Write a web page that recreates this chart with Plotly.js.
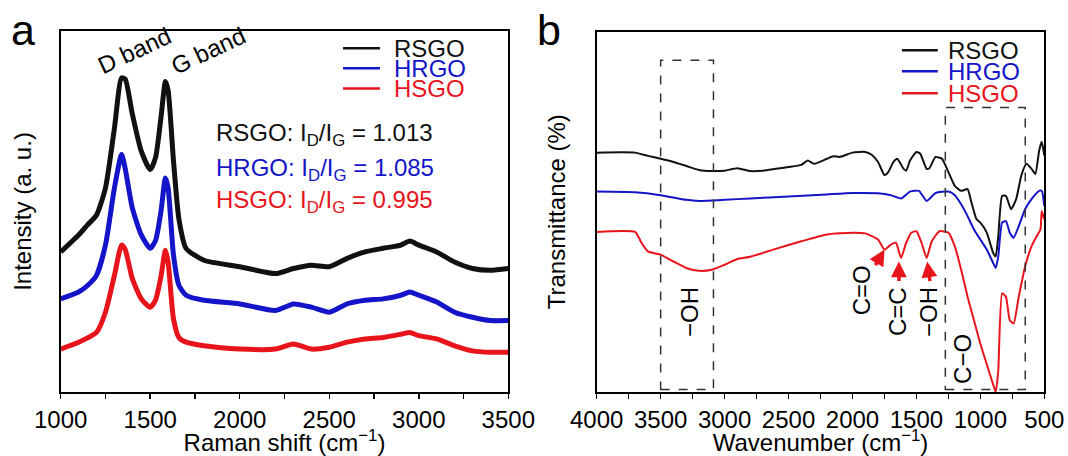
<!DOCTYPE html>
<html>
<head>
<meta charset="utf-8">
<script src="https://cdn.plot.ly/plotly-3.0.1.min.js"></script>
<style>
html,body{margin:0;padding:0;background:#fff;}
#chart{width:1068px;height:456px;}
</style>
</head>
<body>
<div id="chart"></div>
<script>
// ---- Panel a: Raman spectra (arbitrary intensity units)
var ramanShift = [1000,1100,1150,1200,1250,1300,1340,1360,1400,1450,1500,1530,1560,1585,1600,1630,1660,1700,1800,2000,2200,2300,2400,2500,2600,2700,2800,2900,2950,3000,3100,3200,3300,3400,3500];
var ramanRSGO = [38.8,43.5,46.3,49,56.5,73,87,86.7,77,66.7,61.6,65,76,86,83.5,64,48,39.8,36.5,34.7,32.8,34.2,35.1,34.7,37,38.8,39.8,40.7,41.8,40.7,38.8,36,34.2,33.7,34.2];
var ramanHRGO = [25.8,27.7,29.5,32.3,40.7,56.5,65.8,62,51,43.5,39.8,42,50,59.3,56.5,37.9,29.6,26.8,25.4,24.4,22.6,24.4,23.5,22.1,24.4,25.4,25.8,26.8,27.7,26.8,24.9,22.1,20.7,19.8,19.8];
var ramanHSGO = [11.9,13.8,15,16.5,22.1,32.3,40.7,39.5,31.4,25.8,23.5,25.5,32,39.3,36,20.3,15.1,13.8,12.8,11.9,11.9,13.3,11.9,12.4,13.8,14.7,15.1,16,16.5,15.6,14.7,12.8,11.4,11,11];

// ---- Panel b: FTIR spectra (arbitrary transmittance units)
var wnRSGO = [4000,3700,3600,3500,3400,3300,3200,3100,3000,2900,2800,2700,2600,2500,2400,2350,2300,2200,2150,2100,2000,1900,1850,1800,1750,1720,1680,1650,1600,1580,1550,1500,1470,1420,1400,1350,1300,1250,1200,1150,1100,1070,1030,1000,950,900,880,860,830,800,760,720,680,640,600,570,540,520,500];
var trRSGO = [66.4,66.4,65.5,64.7,63.8,62.7,61.6,61.3,61.4,62.1,61.3,61.4,61.9,62.4,63,64.2,63.3,64.7,65.4,65.2,66.4,66.6,65.8,63.8,60.2,61,63.8,64.7,61.9,61.4,64.2,66.6,66.1,61.9,62,65.2,64.7,61,57.2,55.8,56.3,52.6,47.9,47,44.2,38.6,37.6,43.2,54.4,54.4,50.7,53.5,60,63.3,61.9,60.5,67,69.4,65.6];
var wnHRGO = [4000,3700,3500,3300,3200,3000,2800,2500,2200,2000,1800,1700,1620,1550,1480,1420,1350,1250,1200,1150,1100,1050,1000,950,900,880,860,830,800,770,740,700,650,600,540,520,500];
var trHRGO = [55.6,55.4,54.6,53.3,53,53.3,53.7,54.2,54.8,55.2,55.1,54.6,53.7,55.6,55.8,53,55.2,55.6,54.6,52.1,48.8,45.1,42.3,39.5,35.8,34.4,37.6,47,47.4,44.2,42.8,46,50.7,53.5,55.8,55.8,51.6];
var wnHSGO = [4000,3700,3650,3600,3500,3400,3300,3200,3100,3000,2900,2800,2600,2400,2200,2000,1900,1800,1750,1700,1660,1620,1580,1540,1500,1460,1420,1380,1320,1250,1200,1150,1100,1050,1000,950,900,880,860,830,800,770,740,700,650,600,560,530,520,500];
var trHSGO = [44.4,44.4,41.4,39,38.1,36.2,34.4,33.6,33.9,35.3,36.9,37.5,39.7,41.8,43.7,44.2,44,42.3,39.5,40.9,41.4,37.2,41.4,44.2,44.6,41.4,37.2,41.8,44.6,44.2,40.4,33.9,26.4,19.9,13.4,7.7,2.1,0,5.9,27.4,26.4,19.9,19,26.4,34.8,40.4,43.2,45.1,50.2,47.9];

// ---- Labels
var seriesNames = ['RSGO','HRGO','HSGO'];
var seriesColors = ['#111111','#1414c8','#e8141c'];
var ratioLabels = ['RSGO: I<sub>D</sub>/I<sub>G</sub> = 1.013','HRGO: I<sub>D</sub>/I<sub>G</sub> = 1.085','HSGO: I<sub>D</sub>/I<sub>G</sub> = 0.995'];
var ramanTicks = [1000,1500,2000,2500,3000,3500];
var ftirTicks = [4000,3500,3000,2500,2000,1500,1000,500];

var FONT = 'Arial, "Liberation Sans", sans-serif';
var W = 1068, H = 456;

var ramanY = [ramanRSGO, ramanHRGO, ramanHSGO];
var ftirX = [wnRSGO, wnHRGO, wnHSGO];
var ftirY = [trRSGO, trHRGO, trHSGO];

var traces = [];
for (var i = 0; i < 3; i++) {
  traces.push({x: ramanShift, y: ramanY[i], xaxis: 'x', yaxis: 'y', mode: 'lines',
    line: {color: seriesColors[i], width: 5, shape: 'spline', smoothing: 0.6}, name: seriesNames[i], showlegend: false});
}
for (var i = 0; i < 3; i++) {
  traces.push({x: ftirX[i], y: ftirY[i], xaxis: 'x2', yaxis: 'y2', mode: 'lines',
    line: {color: seriesColors[i], width: 2, shape: 'spline', smoothing: 0.5}, name: seriesNames[i], showlegend: false});
}

var axisCommon = {showline: true, mirror: true, linecolor: '#000', linewidth: 2,
  showgrid: false, zeroline: false, ticks: 'outside', ticklen: 5, tickwidth: 1.5, tickcolor: '#000',
  tickfont: {family: FONT, size: 24, color: '#000'}};

var shapes = [];
var annotations = [];

// legends (manual, compact)
var legA = {x0: 2577, x1: 2783, xt: 2849, ys: [95.2, 89.7, 84.1]};
var legB = {x0: 1613, x1: 1333, xt: 1269, ys: [94.8, 89.0, 82.9]};
for (var i = 0; i < 3; i++) {
  shapes.push({type: 'line', xref: 'x', yref: 'y', x0: legA.x0, x1: legA.x1, y0: legA.ys[i], y1: legA.ys[i], line: {color: seriesColors[i], width: 2.5}});
  annotations.push({xref: 'x', yref: 'y', x: legA.xt, y: legA.ys[i], text: seriesNames[i], showarrow: false, xanchor: 'left', yanchor: 'middle', font: {family: FONT, size: 24, color: seriesColors[i]}});
  shapes.push({type: 'line', xref: 'x2', yref: 'y2', x0: legB.x0, x1: legB.x1, y0: legB.ys[i], y1: legB.ys[i], line: {color: seriesColors[i], width: 2.5}});
  annotations.push({xref: 'x2', yref: 'y2', x: legB.xt, y: legB.ys[i], text: seriesNames[i], showarrow: false, xanchor: 'left', yanchor: 'middle', font: {family: FONT, size: 24, color: seriesColors[i]}});
}
// ratio texts
var ratioY = [71.2, 61.5, 52.7];
for (var i = 0; i < 3; i++) {
  annotations.push({xref: 'x', yref: 'y', x: 1856, y: ratioY[i], text: ratioLabels[i], showarrow: false, xanchor: 'left', yanchor: 'middle', font: {family: FONT, size: 24, color: seriesColors[i]}});
}
// band labels
annotations.push({xref: 'x', yref: 'y', x: 1412, y: 94.5, text: 'D band', textangle: -25, showarrow: false, font: {family: FONT, size: 24, color: '#000'}});
annotations.push({xref: 'x', yref: 'y', x: 1826, y: 94.5, text: 'G band', textangle: -25, showarrow: false, font: {family: FONT, size: 24, color: '#000'}});
// panel letters
annotations.push({xref: 'paper', yref: 'paper', x: 23 / W, y: 1 - 30 / H, xanchor: 'center', yanchor: 'middle', text: 'a', showarrow: false, font: {family: FONT, size: 43, color: '#000'}});
annotations.push({xref: 'paper', yref: 'paper', x: 549 / W, y: 1 - 30 / H, xanchor: 'center', yanchor: 'middle', text: 'b', showarrow: false, font: {family: FONT, size: 43, color: '#000'}});

// dashed boxes
shapes.push({type: 'rect', xref: 'x2', yref: 'y2', x0: 3500, x1: 3087, y0: 0.7, y1: 92, line: {color: '#333', width: 1.5, dash: 'dash'}});
shapes.push({type: 'rect', xref: 'x2', yref: 'y2', x0: 1274, x1: 649, y0: 0.7, y1: 78.9, line: {color: '#333', width: 1.5, dash: 'dash'}});

// group labels panel b
var grp = [
  {x: 3271, y: 22.2, t: '−OH'},
  {x: 1923, y: 28.3, t: 'C=O'},
  {x: 1643, y: 22.2, t: 'C=C'},
  {x: 1402, y: 22.2, t: '−OH'},
  {x: 1135, y: 9.2, t: 'C−O'}
];
grp.forEach(function (g) {
  annotations.push({xref: 'x2', yref: 'y2', x: g.x, y: g.y, text: g.t, textangle: -90, showarrow: false, font: {family: FONT, size: 24, color: '#000'}});
});
// red arrows
var arrows = [
  {x: 1749, y: 39.5, ax: -10, ay: 17},
  {x: 1637, y: 36.2, ax: 0, ay: 21},
  {x: 1416, y: 36.2, ax: 3, ay: 21}
];
arrows.forEach(function (a) {
  annotations.push({xref: 'x2', yref: 'y2', x: a.x, y: a.y, ax: a.ax, ay: a.ay, text: '', showarrow: true, arrowhead: 2, arrowsize: 0.9, arrowwidth: 3.5, arrowcolor: '#e8141c'});
});

var layout = {
  width: W, height: H,
  margin: {l: 0, r: 0, t: 0, b: 0},
  paper_bgcolor: '#fff', plot_bgcolor: '#fff',
  showlegend: false,
  xaxis: Object.assign({}, axisCommon, {domain: [60.7 / W, 508.3 / W], range: [1000, 3500], anchor: 'y',
    tickvals: ramanTicks, minor: {dtick: 250, ticks: 'outside', ticklen: 5, tickwidth: 1.5, tickcolor: '#000', showgrid: false},
    title: {text: 'Raman shift (cm<sup>−1</sup>)', font: {family: FONT, size: 24, color: '#000'}, standoff: 3}}),
  yaxis: Object.assign({}, axisCommon, {domain: [1 - 392 / H, 1 - 31 / H], range: [0, 100], anchor: 'x',
    ticks: '', showticklabels: false,
    title: {text: 'Intensity (a. u.)', font: {family: FONT, size: 24, color: '#000'}, standoff: 20}}),
  xaxis2: Object.assign({}, axisCommon, {domain: [596.7 / W, 1044.3 / W], range: [4000, 500], anchor: 'y2',
    tickvals: ftirTicks, minor: {dtick: 250, ticks: 'outside', ticklen: 5, tickwidth: 1.5, tickcolor: '#000', showgrid: false},
    title: {text: 'Wavenumber (cm<sup>−1</sup>)', font: {family: FONT, size: 24, color: '#000'}, standoff: 3}}),
  yaxis2: Object.assign({}, axisCommon, {domain: [1 - 392 / H, 1 - 31.5 / H], range: [0, 100], anchor: 'x2',
    ticks: '', showticklabels: false,
    title: {text: 'Transmittance (%)', font: {family: FONT, size: 24, color: '#000'}, standoff: 22}}),
  shapes: shapes,
  annotations: annotations
};

Plotly.newPlot('chart', traces, layout, {displayModeBar: false, staticPlot: true});
</script>
</body>
</html>
